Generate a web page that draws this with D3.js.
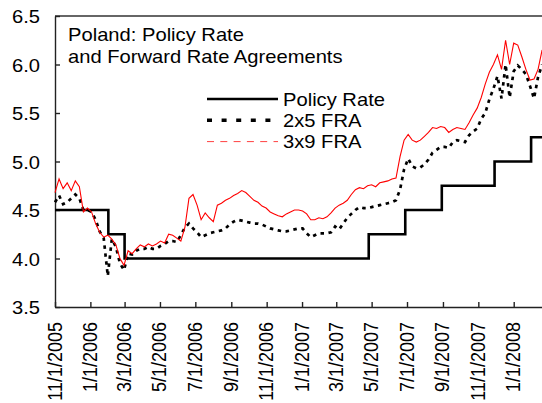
<!DOCTYPE html>
<html>
<head>
<meta charset="utf-8">
<script src="https://cdn.jsdelivr.net/npm/d3@7"></script>
<style>
  body { margin: 0; background: #fff; }
  svg { display: block; font-family: "Liberation Sans", Arial, sans-serif; }
</style>
</head>
<body>
<div id="chart"></div>
<script>
// weekly observations starting 11/1/2005
const startDate = "2005-11-01";
const weekCount = 121;

// 2x5 FRA, weekly readings
const fra2x5 = [
    4.58, 4.65, 4.56, 4.58, 4.62, 4.66, 4.62, 4.50, 4.50, 4.48,
    4.40, 4.28, 4.21, 3.82, 4.20, 4.12, 3.95, 3.88, 4.05, 4.04,
    4.08, 4.10, 4.10, 4.12, 4.10, 4.10, 4.13, 4.15, 4.18, 4.18,
    4.17, 4.24, 4.32, 4.36, 4.31, 4.27, 4.22, 4.24, 4.26, 4.27,
    4.28, 4.29, 4.31, 4.35, 4.38, 4.40, 4.39, 4.38, 4.37, 4.36,
    4.36, 4.35, 4.33, 4.31, 4.30, 4.29, 4.28, 4.28, 4.29, 4.30,
    4.31, 4.31, 4.26, 4.22, 4.24, 4.26, 4.26, 4.26, 4.27, 4.33,
    4.30, 4.36, 4.42, 4.46, 4.50, 4.53, 4.52, 4.52, 4.53, 4.54,
    4.55, 4.56, 4.57, 4.58, 4.60, 4.71, 4.92, 5.03, 4.95, 4.93,
    4.94, 4.97, 5.02, 5.09, 5.12, 5.15, 5.15, 5.14, 5.20, 5.22,
    5.21, 5.20, 5.27, 5.31, 5.34, 5.44, 5.50, 5.64, 5.75, 5.88,
    5.65, 6.00, 5.66, 5.93, 5.99, 5.95, 5.90, 5.78, 5.65, 5.87,
    6.00
];

// 3x9 FRA, weekly readings
const fra3x9 = [
    4.68, 4.82, 4.72, 4.78, 4.70, 4.80, 4.74, 4.48, 4.52, 4.48,
    4.36, 4.27, 4.22, 4.24, 4.20, 4.14, 4.00, 3.93, 4.08, 4.05,
    4.10, 4.14, 4.12, 4.15, 4.13, 4.15, 4.18, 4.16, 4.25, 4.24,
    4.21, 4.18, 4.32, 4.62, 4.66, 4.55, 4.40, 4.47, 4.42, 4.38,
    4.55, 4.57, 4.60, 4.62, 4.65, 4.67, 4.70, 4.68, 4.64, 4.60,
    4.58, 4.54, 4.52, 4.48, 4.46, 4.44, 4.43, 4.46, 4.48, 4.50,
    4.50, 4.49, 4.46, 4.40, 4.40, 4.42, 4.41, 4.43, 4.47, 4.52,
    4.55, 4.57, 4.60, 4.66, 4.71, 4.73, 4.72, 4.75, 4.76, 4.74,
    4.78, 4.79, 4.80, 4.82, 4.83, 5.05, 5.22, 5.28, 5.22, 5.20,
    5.22, 5.26, 5.30, 5.35, 5.34, 5.36, 5.35, 5.30, 5.33, 5.35,
    5.34, 5.33, 5.40, 5.48, 5.55, 5.66, 5.80, 5.92, 6.00, 6.10,
    5.95, 6.25, 6.00, 6.22, 6.20, 6.08, 5.95, 5.84, 5.85, 5.95,
    6.15
];

// NBP reference rate: change dates and levels
const policyDates = ["2005-11-01", "2006-02-01", "2006-03-01", "2007-04-26", "2007-06-28",
                     "2007-08-30", "2007-11-29", "2008-01-31", "2008-02-19"];
const policyRate = [4.50, 4.25, 4.00, 4.25, 4.50, 4.75, 5.00, 5.25, 5.25];

const xTickDates = ["2005-11-01", "2006-01-01", "2006-03-01", "2006-05-01", "2006-07-01",
                    "2006-09-01", "2006-11-01", "2007-01-01", "2007-03-01", "2007-05-01",
                    "2007-07-01", "2007-09-01", "2007-11-01", "2008-01-01"];
const yTicks = [3.5, 4.0, 4.5, 5.0, 5.5, 6.0, 6.5];

const titleLines = ["Poland: Policy Rate", "and Forward Rate Agreements"];
const legendNames = ["Policy Rate", "2x5 FRA", "3x9 FRA"];

const width = 542, height = 403;
const stretch = 1.12;
const parse = d3.utcParse("%Y-%m-%d");

const weekDates = d3.range(weekCount).map(i => d3.utcDay.offset(parse(startDate), 7 * i));

const svg = d3.select("#chart").append("svg")
    .attr("width", width)
    .attr("height", height);

const x = d3.scaleUtc()
    .domain([parse("2005-11-01"), parse("2008-03-01")])
    .range([55, 548.5]);

const y = d3.scaleLinear()
    .domain([3.5, 6.5])
    .range([307, 16]);

// frame top line
svg.append("line")
    .attr("x1", x.range()[0]).attr("x2", x.range()[1])
    .attr("y1", y(6.5)).attr("y2", y(6.5))
    .attr("stroke", "#333").attr("stroke-width", 1.3);

// y axis
const yAxis = svg.append("g")
    .attr("transform", `translate(${x.range()[0]},0)`)
    .call(d3.axisLeft(y).tickValues(yTicks).tickSizeInner(-5).tickSizeOuter(0)
        .tickFormat(d3.format(".1f")));

yAxis.selectAll("text")
    .attr("x", null).attr("dy", null)
    .attr("text-anchor", "end")
    .attr("transform", `translate(-15,6.5) scale(${stretch},1)`);

// x axis
const xAxis = svg.append("g")
    .attr("transform", `translate(0,${y.range()[0]})`)
    .call(d3.axisBottom(x).tickValues(xTickDates.map(parse)).tickSizeInner(-5).tickSizeOuter(0)
        .tickFormat(d3.utcFormat("%-m/%-d/%Y")));

xAxis.selectAll("text")
    .attr("y", null).attr("dy", null)
    .attr("text-anchor", "end")
    .attr("transform", `translate(6,15) rotate(-90) scale(1,${stretch})`);

svg.selectAll(".tick line, .domain")
    .attr("stroke", "#222").attr("stroke-width", 1.4);
svg.selectAll(".tick text")
    .attr("fill", "#000").attr("font-size", 18)
    .attr("font-family", "'Liberation Sans', Arial, sans-serif");

const line = d3.line()
    .x(d => x(d.date))
    .y(d => y(d.value));

const policyData = policyDates.map((d, i) => ({date: parse(d), value: policyRate[i]}));
const data2x5 = weekDates.map((d, i) => ({date: d, value: fra2x5[i]}));
const data3x9 = weekDates.map((d, i) => ({date: d, value: fra3x9[i]}));

svg.append("path")
    .datum(policyData)
    .attr("d", line.curve(d3.curveStepAfter))
    .attr("fill", "none")
    .attr("stroke", "#000")
    .attr("stroke-width", 2.6);

line.curve(d3.curveLinear);

svg.append("path")
    .datum(data2x5)
    .attr("d", line)
    .attr("fill", "none")
    .attr("stroke", "#000")
    .attr("stroke-width", 2.7)
    .attr("stroke-dasharray", "3.5,4.5");

svg.append("path")
    .datum(data3x9)
    .attr("d", line)
    .attr("fill", "none")
    .attr("stroke", "#ff0000")
    .attr("stroke-width", 1.1);

// title
titleLines.forEach((t, i) => {
    svg.append("text")
        .attr("transform", `translate(68,${41 + i * 22}) scale(${stretch},1)`)
        .attr("font-size", 18)
        .attr("fill", "#000")
        .text(t);
});

// legend
const legendStyles = [
    {stroke: "#000", width: 2.6, dash: null},
    {stroke: "#000", width: 3.5, dash: "5,9.6"},
    {stroke: "#ff4040", width: 1, dash: "7,6.3"}
];
legendNames.forEach((name, i) => {
    const ly = 99 + i * 21.3;
    svg.append("line")
        .attr("x1", 207).attr("x2", 278)
        .attr("y1", ly).attr("y2", ly)
        .attr("stroke", legendStyles[i].stroke)
        .attr("stroke-width", legendStyles[i].width)
        .attr("stroke-dasharray", legendStyles[i].dash);
    svg.append("text")
        .attr("transform", `translate(283,${ly + 6.5}) scale(${stretch},1)`)
        .attr("font-size", 18)
        .attr("fill", "#000")
        .text(name);
});
</script>
</body>
</html>
